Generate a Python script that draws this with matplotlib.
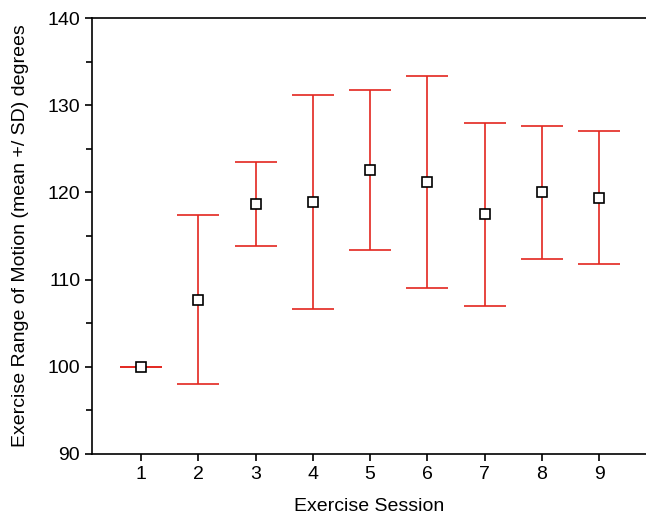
import matplotlib
matplotlib.use('Agg')
import matplotlib.pyplot as plt
from matplotlib.ticker import MultipleLocator

# session numbers and mean / SD of range of motion (degrees)
sessions = [1, 2, 3, 4, 5, 6, 7, 8, 9]
means = [100.0, 107.7, 118.7, 118.9, 122.6, 121.2, 117.5, 120.0, 119.4]
sds = [0.0, 9.7, 4.8, 12.3, 9.2, 12.2, 10.5, 7.6, 7.6]

plt.rcParams['font.family'] = ['Liberation Sans', 'DejaVu Sans']

fig = plt.figure(figsize=(6.46, 5.16), dpi=100)
ax = fig.add_axes([0.1424, 0.1202, 0.8576, 0.8449])

ax.errorbar(sessions, means, yerr=sds, fmt='none', ecolor='#e3261f',
            elinewidth=1.2, capsize=14.8, capthick=1.2, zorder=2)
ax.plot(sessions, means, 's', markersize=7, markerfacecolor='white',
        markeredgecolor='black', markeredgewidth=1.2, zorder=3)

ax.set_xlim(0.144, 9.82)
ax.set_ylim(90, 140)
ax.set_xticks(sessions)
ax.yaxis.set_major_locator(MultipleLocator(10))
ax.yaxis.set_minor_locator(MultipleLocator(5))

ax.spines['right'].set_visible(False)
for s in ['left', 'bottom', 'top']:
    ax.spines[s].set_linewidth(1.2)
ax.tick_params(axis='both', which='major', direction='out', length=5,
               width=1.2, labelsize=14, top=False, right=False)
ax.tick_params(axis='y', which='minor', direction='out', length=4, width=1.2)

ax.set_xlabel('Exercise Session', fontsize=14, labelpad=11)
ax.set_ylabel('Exercise Range of Motion (mean +/ SD) degrees', fontsize=14, labelpad=13)

fig.savefig('out.png', dpi=100)
